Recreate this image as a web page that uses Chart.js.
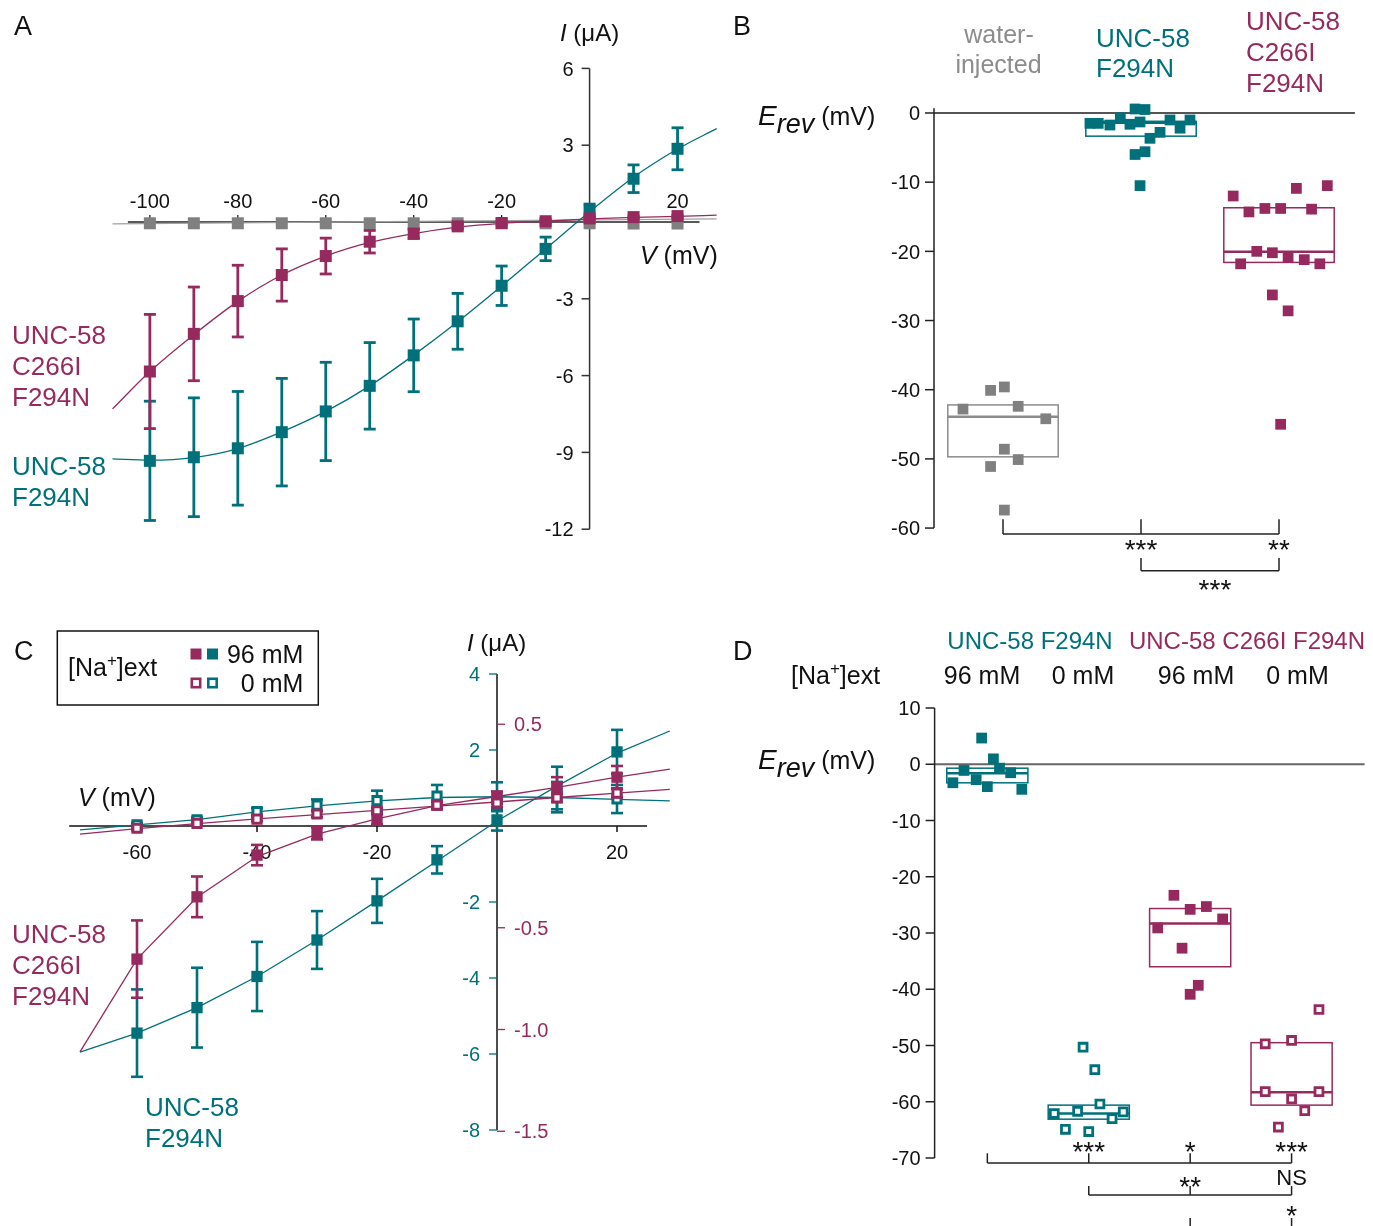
<!DOCTYPE html>
<html>
<head>
<meta charset="utf-8">
<title>UNC-58 F294N / C266I F294N currents and reversal potentials</title>
<script src="https://cdn.jsdelivr.net/npm/chart.js@4.4.1/dist/chart.umd.min.js"></script>
<style>
  body { margin: 0; background: #fff; }
  #fig { position: relative; width: 1373px; height: 1226px; overflow: hidden; }
  #fig canvas { position: absolute; }
</style>
</head>
<body>
<div id="fig">
  <canvas id="panelA" width="730" height="600" style="left:0;top:0"></canvas>
  <canvas id="panelB" width="643" height="600" style="left:730px;top:0"></canvas>
  <canvas id="panelC" width="730" height="626" style="left:0;top:600px"></canvas>
  <canvas id="panelD" width="643" height="626" style="left:730px;top:600px"></canvas>
</div>
<script>
const TEAL = '#00707a', MAGENTA = '#962a5f', GRAY = '#808080', INK = '#111';
const FONT = '"Liberation Sans", Arial, sans-serif';

// ---------- panel A: I-V curves in 96 mM Na+ ----------
const voltsA = [-100, -90, -80, -70, -60, -50, -40, -30, -20, -10, 0, 10, 20];
const f294nA = [-9.33, -9.19, -8.84, -8.21, -7.40, -6.40, -5.21, -3.88, -2.49, -1.05, 0.45, 1.69, 2.86];
const f294nErrA = [2.33, 2.32, 2.22, 2.10, 1.92, 1.69, 1.42, 1.09, 0.77, 0.46, 0.25, 0.54, 0.82];
const c266iA = [-5.84, -4.37, -3.09, -2.07, -1.33, -0.77, -0.46, -0.17, -0.04, 0.03, 0.14, 0.19, 0.23];
const c266iErrA = [2.23, 1.83, 1.40, 1.02, 0.70, 0.44, 0.18, 0.10, 0.06, 0.04, 0.04, 0.04, 0.04];
const waterA = [-0.05, -0.05, -0.05, -0.05, -0.05, -0.05, -0.05, -0.05, -0.05, -0.05, -0.05, -0.06, -0.06];
// fitted curves, read at the plotted voltages plus both ends of each curve
const fitVoltsA = [-108.5, -100, -90, -80, -70, -60, -50, -40, -30, -20, -10, 0, 10, 20, 28.9];
const f294nFitA = [-9.25, -9.3, -9.2, -8.85, -8.2, -7.4, -6.4, -5.2, -3.9, -2.5, -1.05, 0.4, 1.75, 2.85, 3.65];
const c266iFitA = [-7.3, -5.84, -4.4, -3.1, -2.07, -1.33, -0.8, -0.45, -0.2, -0.05, 0.03, 0.12, 0.18, 0.22, 0.27];
const waterFitVoltsA = [-108.5, 28.9];
const waterFitA = [-0.07, 0.12];
const xTicksA = [-100, -80, -60, -40, -20, 20];
const yTicksA = [6, 3, -3, -6, -9, -12];

// ---------- panel B: Erev per oocyte ----------
const groupsB = ['water-injected', 'UNC-58 F294N', 'UNC-58 C266I F294N'];
const waterXB = [0.71, 0.91, 1.01, 1.11, 1.31, 1.01, 1.11, 0.91, 1.01];
const waterB = [-42.8, -40.1, -39.6, -42.4, -44.2, -48.6, -50.1, -51.1, -57.4];
const f294nXB = [1.63, 1.69, 1.775, 1.85, 1.92, 1.957, 2.029, 1.993, 2.065, 2.138, 2.21, 2.283, 2.355, 2.029, 1.957, 1.993];
const f294nB = [-1.5, -1.5, -1.74, -0.68, -1.63, 0.58, 0.5, -1.3, -3.66, -2.8, -1.01, -2.2, -1.01, -5.6, -6.0, -10.5];
const c266iXB = [2.668, 2.782, 2.898, 3.012, 3.126, 3.236, 3.35, 2.839, 2.952, 3.066, 3.183, 3.296, 2.722, 2.952, 3.066, 3.012];
const c266iB = [-12.0, -14.3, -13.8, -13.8, -10.9, -13.9, -10.5, -20.0, -20.2, -20.9, -21.2, -21.8, -21.8, -26.3, -28.6, -45.0];
const boxHighB = [-42.2, -1.2, -13.7];
const boxMedB = [-43.9, -1.4, -20.05];
const boxLowB = [-49.7, -3.35, -21.6];
const yTicksB = [0, -10, -20, -30, -40, -50, -60];

// ---------- panel C: I-V curves in 96 mM and 0 mM Na+ ----------
const voltsC = [-60, -50, -40, -30, -20, -10, 0, 10, 20];
const f294n96C = [-5.45, -4.78, -3.96, -3.0, -1.97, -0.89, 0.16, 1.0, 1.95];
const f294n96ErrC = [1.15, 1.05, 0.91, 0.76, 0.58, 0.36, 0.28, 0.56, 0.58];
const f294n0C = [0.03, 0.16, 0.38, 0.55, 0.67, 0.79, 0.77, 0.76, 0.71];
const f294n0ErrC = [0.05, 0.06, 0.09, 0.15, 0.26, 0.29, 0.38, 0.40, 0.37];
const c266i96C = [-0.654, -0.348, -0.143, -0.036, 0.038, 0.103, 0.14, 0.19, 0.24];
const c266i96ErrC = [0.19, 0.10, 0.05, 0.03, 0.03, 0.02, 0.03, 0.05, 0.055];
const c266i0C = [-0.011, 0.013, 0.034, 0.059, 0.075, 0.103, 0.113, 0.138, 0.162];
const c266i0ErrC = [0.01, 0.01, 0.01, 0.015, 0.015, 0.015, 0.02, 0.02, 0.02];
const fitVoltsC = [-69.5, -60, -50, -40, -30, -20, -10, 0, 10, 20, 28.8];
const f294n96FitC = [-5.95, -5.45, -4.78, -3.96, -3.0, -1.97, -0.92, 0.13, 1.05, 1.92, 2.5];
const c266i96FitC = [-1.11, -0.654, -0.35, -0.15, -0.04, 0.035, 0.1, 0.145, 0.19, 0.24, 0.28];
const f294n0FitC = [-0.1, 0.03, 0.17, 0.37, 0.53, 0.66, 0.75, 0.77, 0.75, 0.7, 0.66];
const c266i0FitC = [-0.04, -0.013, 0.012, 0.035, 0.056, 0.077, 0.098, 0.118, 0.14, 0.162, 0.18];
const xTicksC = [-60, -40, -20, 20];
const yTicksTealC = [4, 2, -2, -4, -6, -8];
const yTicksMagC = [0.5, -0.5, -1.0, -1.5];

// ---------- panel D: Erev in 96 mM and 0 mM Na+ ----------
const concD = ['96 mM', '0 mM', '96 mM', '0 mM'];
const f294n96XD = [0.944, 1.06, 0.77, 1.12, 1.23, 0.66, 0.89, 1.0, 1.34];
const f294n96D = [4.66, 0.96, -1.10, -0.69, -1.51, -3.29, -2.74, -3.98, -4.46];
const f294n0XD = [1.944, 2.06, 2.11, 1.66, 1.89, 2.34, 2.23, 1.77, 2.0];
const f294n0D = [-50.3, -54.3, -60.4, -62.1, -61.7, -61.8, -63.0, -64.9, -65.3];
const c266i96XD = [2.84, 3.0, 3.16, 3.32, 2.68, 2.92, 3.08, 3.0];
const c266i96D = [-23.3, -25.8, -25.3, -27.5, -29.1, -32.7, -39.3, -40.9];
const c266i0XD = [4.27, 3.74, 4.0, 3.74, 4.27, 4.0, 4.13, 3.87];
const c266i0D = [-43.6, -49.7, -49.1, -58.2, -58.2, -59.5, -61.6, -64.5];
const boxHighD = [-0.7, -60.6, -25.65, -49.5];
const boxMedD = [-1.6, -62.1, -28.3, -58.3];
const boxLowD = [-3.3, -63.1, -36.0, -60.6];
const yTicksD = [10, 0, -10, -20, -30, -40, -50, -60, -70];

// ---------- helpers ----------
const pts = (xs, ys) => xs.map((x, i) => ({ x, y: ys[i] }));

function line(ctx, x1, y1, x2, y2) {
  ctx.beginPath(); ctx.moveTo(x1, y1); ctx.lineTo(x2, y2); ctx.stroke();
}

// yc = visual centre of capitals/digits
function text(ctx, s, x, yc, o = {}) {
  const size = o.size || 26;
  ctx.font = (o.italic ? 'italic ' : '') + size + 'px ' + FONT;
  ctx.fillStyle = o.color || INK;
  ctx.textAlign = o.align || 'left';
  ctx.textBaseline = 'alphabetic';
  ctx.fillText(s, x, yc + 0.36 * size);
}

// runs: [text, size, italic, dy]
function rich(ctx, runs, x, base, o = {}) {
  const fontOf = r => (r[2] ? 'italic ' : '') + r[1] + 'px ' + FONT;
  let w = 0;
  runs.forEach(r => { ctx.font = fontOf(r); w += ctx.measureText(r[0]).width; });
  let cx = o.align === 'center' ? x - w / 2 : o.align === 'right' ? x - w : x;
  ctx.fillStyle = o.color || INK;
  ctx.textAlign = 'left';
  ctx.textBaseline = 'alphabetic';
  runs.forEach(r => {
    ctx.font = fontOf(r);
    ctx.fillText(r[0], cx, base + (r[3] || 0));
    cx += ctx.measureText(r[0]).width;
  });
}

function stars(ctx, s, x, yc, size = 28) {
  ctx.font = size + 'px ' + FONT;
  ctx.fillStyle = INK;
  ctx.textAlign = 'center';
  ctx.textBaseline = 'alphabetic';
  ctx.fillText(s, x, yc + 0.5 * size);
}

function erev(ctx, x, base) {
  rich(ctx, [['E', 28, true], ['rev', 27, true, 8], [' (mV)', 25]], x, base);
}

// significance bracket: horizontal at yLine, upward tips at each category
function bracket(chart, cats, yLine, yTip) {
  const { ctx, scales: { x, y } } = chart;
  const yl = y.getPixelForValue(yLine), yt = y.getPixelForValue(yTip);
  line(ctx, x.getPixelForValue(cats[0]), yl, x.getPixelForValue(cats[cats.length - 1]), yl);
  cats.forEach(c => { const px = x.getPixelForValue(c); line(ctx, px, yl, px, yt); });
}

function boxes(chart, high, med, low, colors) {
  const { ctx, scales: { x, y } } = chart;
  high.forEach((h, i) => {
    const l = x.getPixelForValue(i + 0.6), r = x.getPixelForValue(i + 1.4);
    ctx.strokeStyle = colors[i];
    ctx.lineWidth = 1.5;
    ctx.strokeRect(l, y.getPixelForValue(h), r - l, y.getPixelForValue(low[i]) - y.getPixelForValue(h));
    ctx.lineWidth = 2.5;
    line(ctx, l, y.getPixelForValue(med[i]), r, y.getPixelForValue(med[i]));
  });
}

function filled(data, color, r, order, extra = {}) {
  return Object.assign({
    data, order, showLine: false, clip: false, pointStyle: 'rect',
    pointRadius: r, pointHoverRadius: r,
    pointBackgroundColor: color, pointBorderColor: color, pointBorderWidth: 0, errColor: color
  }, extra);
}

function hollow(data, color, r, bw, order, extra = {}) {
  return Object.assign({
    data, order, showLine: false, clip: false, pointStyle: 'rect',
    pointRadius: r, pointHoverRadius: r,
    pointBackgroundColor: '#fff', pointBorderColor: color, pointBorderWidth: bw, errColor: color
  }, extra);
}

function fit(data, color, order, extra = {}) {
  return Object.assign({
    data, order, showLine: true, clip: false, pointRadius: 0, pointHoverRadius: 0,
    borderColor: color, borderWidth: 1.3, cubicInterpolationMode: 'monotone', fill: false
  }, extra);
}
const straight = { cubicInterpolationMode: 'default', tension: 0 };

// error bars drawn just before their own dataset, so markers sit on top
function errorBars(capW, lw) {
  return {
    id: 'errorBars',
    beforeDatasetDraw(chart, args) {
      const ds = chart.data.datasets[args.index];
      if (!ds.err) return;
      const xs = chart.scales[args.meta.xAxisID], ys = chart.scales[args.meta.yAxisID];
      const ctx = chart.ctx;
      ctx.save();
      ctx.strokeStyle = ds.errColor;
      ctx.lineWidth = lw;
      ds.data.forEach((p, i) => {
        const e = ds.err[i];
        if (!e) return;
        const px = xs.getPixelForValue(p.x);
        const y1 = ys.getPixelForValue(p.y + e), y2 = ys.getPixelForValue(p.y - e);
        line(ctx, px, y1, px, y2);
        line(ctx, px - capW / 2, y1, px + capW / 2, y1);
        line(ctx, px - capW / 2, y2, px + capW / 2, y2);
      });
      ctx.restore();
    }
  };
}

function makeChart(id, datasets, scales, padding, plugins) {
  return new Chart(document.getElementById(id), {
    type: 'scatter',
    data: { datasets },
    options: {
      responsive: false, animation: false, devicePixelRatio: 1, events: [],
      layout: { padding },
      scales,
      plugins: { legend: { display: false }, tooltip: { enabled: false } }
    },
    plugins
  });
}

const hidden = (min, max, extra = {}) => Object.assign({ type: 'linear', min, max, display: false }, extra);

// ---------- panel A ----------
const axesA = {
  id: 'axesA',
  beforeDatasetsDraw(chart) {
    const { ctx, scales: { x, y } } = chart;
    const x0 = x.getPixelForValue(0), y0 = y.getPixelForValue(0);
    ctx.save();
    ctx.strokeStyle = '#222'; ctx.lineWidth = 1.3;
    line(ctx, x.getPixelForValue(-105), y0, x.getPixelForValue(25), y0);
    xTicksA.forEach(v => {
      const px = x.getPixelForValue(v);
      line(ctx, px, y0, px, y0 - 7);
      text(ctx, String(v), px, y0 - 21, { size: 20, align: 'center' });
    });
    ctx.strokeStyle = '#333'; ctx.lineWidth = 1.5;
    line(ctx, x0, y.getPixelForValue(6), x0, y.getPixelForValue(-12));
    yTicksA.forEach(v => {
      const py = y.getPixelForValue(v);
      line(ctx, x0 - 8, py, x0, py);
      text(ctx, String(v), x0 - 16, py, { size: 20, align: 'right' });
    });
    ctx.restore();
  },
  afterDatasetsDraw(chart) {
    const ctx = chart.ctx;
    ctx.save();
    text(ctx, 'A', 14, 25, { size: 27 });
    rich(ctx, [['I', 24, true], [' (μA)', 24]], 560, 41);
    rich(ctx, [['V', 25, true], [' (mV)', 25]], 640, 264);
    groupsB[2].split(' ').forEach((s, i) => text(ctx, s, 12, 335 + 31 * i, { color: MAGENTA }));
    groupsB[1].split(' ').forEach((s, i) => text(ctx, s, 12, 466 + 31 * i, { color: TEAL }));
    ctx.restore();
  }
};

makeChart('panelA', [
  filled(pts(voltsA, c266iA), MAGENTA, 8.5, 1, { err: c266iErrA }),
  filled(pts(voltsA, f294nA), TEAL, 8.5, 2, { err: f294nErrA }),
  filled(pts(voltsA, waterA), GRAY, 8.5, 3),
  fit(pts(fitVoltsA, c266iFitA), MAGENTA, 4),
  fit(pts(fitVoltsA, f294nFitA), TEAL, 5),
  fit(pts(waterFitVoltsA, waterFitA), '#a0a0a0', 6)
], { x: hidden(-110, 30), y: hidden(-13, 7) },
{ left: 105.9, right: 6.7, top: 42.8, bottom: 45.2 },
[axesA, errorBars(12, 2.8)]);

// ---------- panel B ----------
const axesB = {
  id: 'axesB',
  beforeDatasetsDraw(chart) {
    const { ctx, scales: { x, y } } = chart;
    const xa = x.getPixelForValue(0.5), y0 = y.getPixelForValue(0);
    ctx.save();
    ctx.strokeStyle = '#555'; ctx.lineWidth = 1.8;
    line(ctx, xa, y0, x.getPixelForValue(3.55), y0);
    ctx.strokeStyle = '#222'; ctx.lineWidth = 1.5;
    line(ctx, xa, y.getPixelForValue(0.7), xa, y.getPixelForValue(-60));
    yTicksB.forEach(v => {
      const py = y.getPixelForValue(v);
      line(ctx, xa - 9, py, xa, py);
      text(ctx, String(v), xa - 14, py, { size: 20, align: 'right' });
    });
    boxes(chart, boxHighB, boxMedB, boxLowB, ['#8c8c8c', TEAL, MAGENTA]);
    ctx.restore();
  },
  afterDatasetsDraw(chart) {
    const { ctx, scales: { x, y } } = chart;
    ctx.save();
    ctx.strokeStyle = '#222'; ctx.lineWidth = 1.5;
    bracket(chart, [1, 2, 3], -60.84, -58.74);
    bracket(chart, [2, 3], -66.18, -64.33);
    stars(ctx, '***', x.getPixelForValue(2), y.getPixelForValue(-62.46));
    stars(ctx, '**', x.getPixelForValue(3), y.getPixelForValue(-62.46));
    stars(ctx, '***', x.getPixelForValue(2.536), y.getPixelForValue(-68.24));
    ctx.translate(-730, 0);
    text(ctx, 'B', 733, 25, { size: 27 });
    rich(ctx, [['water-', 25]], 999, 43, { align: 'center', color: '#8c8c8c' });
    rich(ctx, [['injected', 25]], 998.5, 73, { align: 'center', color: '#8c8c8c' });
    groupsB[1].split(' ').forEach((s, i) => rich(ctx, [[s, 26]], 1096, 47 + 30 * i, { color: TEAL }));
    groupsB[2].split(' ').forEach((s, i) => rich(ctx, [[s, 26]], 1246, 30 + 31 * i, { color: MAGENTA }));
    erev(ctx, 758, 125);
    ctx.restore();
  }
};

makeChart('panelB', [
  filled(pts(waterXB, waterB), GRAY, 7.6, 1),
  filled(pts(f294nXB, f294nB), TEAL, 7.6, 2),
  filled(pts(c266iXB, c266iB), MAGENTA, 7.6, 3)
], { x: hidden(0.5, 3.55), y: hidden(-62, 5) },
{ left: 204, right: 18.1, top: 78.4, bottom: 58.1 },
[axesB]);

// ---------- panel C ----------
const axesC = {
  id: 'axesC',
  beforeDatasetsDraw(chart) {
    const { ctx, scales: { x, yT, yM } } = chart;
    const x0 = x.getPixelForValue(0), y0 = yT.getPixelForValue(0);
    ctx.save();
    ctx.strokeStyle = '#111'; ctx.lineWidth = 1.5;
    line(ctx, x.getPixelForValue(-71.3), y0, x.getPixelForValue(25), y0);
    xTicksC.forEach(v => {
      const px = x.getPixelForValue(v);
      line(ctx, px, y0, px, y0 + 6);
      text(ctx, String(v), px, y0 + 26, { size: 20, align: 'center' });
    });
    line(ctx, x0, yT.getPixelForValue(4), x0, yT.getPixelForValue(-8));
    ctx.strokeStyle = TEAL; ctx.lineWidth = 1.3;
    yTicksTealC.forEach(v => {
      const py = yT.getPixelForValue(v);
      line(ctx, x0 - 8, py, x0, py);
      text(ctx, String(v), x0 - 17, py, { size: 20, align: 'right', color: TEAL });
    });
    ctx.strokeStyle = MAGENTA;
    yTicksMagC.forEach(v => {
      const py = yM.getPixelForValue(v);
      line(ctx, x0, py, x0 + 8, py);
      text(ctx, v.toFixed(1), x0 + 17, py, { size: 20, color: MAGENTA });
    });
    ctx.restore();
  },
  afterDatasetsDraw(chart) {
    const ctx = chart.ctx;
    ctx.save();
    ctx.translate(0, -600);
    text(ctx, 'C', 14, 650, { size: 27 });
    // legend
    ctx.strokeStyle = '#111'; ctx.lineWidth = 1.5;
    ctx.strokeRect(57.3, 631, 261, 74);
    rich(ctx, [['[Na', 25], ['+', 17, false, -10], [']ext', 25]], 68, 676);
    ctx.fillStyle = MAGENTA; ctx.fillRect(190.5, 648.5, 11, 11);
    ctx.fillStyle = TEAL; ctx.fillRect(207, 648.5, 11, 11);
    ctx.lineWidth = 2.6;
    ctx.strokeStyle = MAGENTA; ctx.strokeRect(191.8, 678.8, 8.4, 8.4);
    ctx.strokeStyle = TEAL; ctx.strokeRect(208.3, 678.8, 8.4, 8.4);
    text(ctx, concD[0], 303.3, 654, { align: 'right', size: 25 });
    text(ctx, concD[1], 303.3, 683, { align: 'right', size: 25 });
    rich(ctx, [['I', 24, true], [' (μA)', 24]], 467, 651);
    rich(ctx, [['V', 25, true], [' (mV)', 25]], 78, 806);
    groupsB[2].split(' ').forEach((s, i) => text(ctx, s, 12, 934 + 31 * i, { color: MAGENTA }));
    groupsB[1].split(' ').forEach((s, i) => text(ctx, s, 145, 1107 + 31 * i, { color: TEAL }));
    ctx.restore();
  }
};

makeChart('panelC', [
  hollow(pts(voltsC, c266i0C), MAGENTA, 5.8, 3, 1, { yAxisID: 'yM', err: c266i0ErrC }),
  filled(pts(voltsC, c266i96C), MAGENTA, 8, 2, { yAxisID: 'yM', err: c266i96ErrC }),
  hollow(pts(voltsC, f294n0C), TEAL, 5.8, 3, 3, { yAxisID: 'yT', err: f294n0ErrC }),
  filled(pts(voltsC, f294n96C), TEAL, 8, 4, { yAxisID: 'yT', err: f294n96ErrC }),
  fit(pts(fitVoltsC, c266i0FitC), MAGENTA, 5, Object.assign({ yAxisID: 'yM' }, straight)),
  fit(pts(fitVoltsC, c266i96FitC), MAGENTA, 6, Object.assign({ yAxisID: 'yM' }, straight)),
  fit(pts(fitVoltsC, f294n0FitC), TEAL, 7, Object.assign({ yAxisID: 'yT' }, straight)),
  fit(pts(fitVoltsC, f294n96FitC), TEAL, 8, Object.assign({ yAxisID: 'yT' }, straight))
], { x: hidden(-72, 29), yT: hidden(-9, 5), yM: hidden(-1.6806, 0.9337) },
{ left: 65, right: 59, top: 36, bottom: 58 },
[axesC, errorBars(12, 2.6)]);

// ---------- panel D ----------
const axesD = {
  id: 'axesD',
  beforeDatasetsDraw(chart) {
    const { ctx, scales: { x, y } } = chart;
    const xa = x.getPixelForValue(0.48), y0 = y.getPixelForValue(0);
    ctx.save();
    ctx.strokeStyle = '#666'; ctx.lineWidth = 1.8;
    line(ctx, xa, y0, x.getPixelForValue(4.72), y0);
    ctx.strokeStyle = '#222'; ctx.lineWidth = 1.5;
    line(ctx, xa, y.getPixelForValue(10), xa, y.getPixelForValue(-70));
    yTicksD.forEach(v => {
      const py = y.getPixelForValue(v);
      line(ctx, xa - 9, py, xa, py);
      text(ctx, String(v), xa - 14, py, { size: 20, align: 'right' });
    });
    boxes(chart, boxHighD, boxMedD, boxLowD, [TEAL, TEAL, MAGENTA, MAGENTA]);
    ctx.restore();
  },
  afterDatasetsDraw(chart) {
    const { ctx, scales: { x, y } } = chart;
    ctx.save();
    ctx.strokeStyle = '#222'; ctx.lineWidth = 1.5;
    bracket(chart, [1, 2, 3, 4], -70.89, -69.16);
    bracket(chart, [2, 3, 4], -76.58, -74.98);
    [3, 4].forEach(c => line(ctx, x.getPixelForValue(c), y.getPixelForValue(-80.67), x.getPixelForValue(c), y.getPixelForValue(-83)));
    stars(ctx, '***', x.getPixelForValue(2), y.getPixelForValue(-68.04));
    stars(ctx, '*', x.getPixelForValue(3), y.getPixelForValue(-68.04));
    stars(ctx, '***', x.getPixelForValue(4), y.getPixelForValue(-68.04));
    text(ctx, 'NS', x.getPixelForValue(4), y.getPixelForValue(-73.38), { size: 22, align: 'center' });
    stars(ctx, '**', x.getPixelForValue(3), y.getPixelForValue(-74.27));
    stars(ctx, '*', x.getPixelForValue(4), y.getPixelForValue(-79.42));
    ctx.translate(-730, -600);
    text(ctx, 'D', 733, 650, { size: 27 });
    text(ctx, groupsB[1], 1030, 640, { size: 24, align: 'center', color: TEAL });
    text(ctx, groupsB[2], 1247, 640, { size: 24, align: 'center', color: MAGENTA });
    rich(ctx, [['[Na', 25], ['+', 17, false, -10], [']ext', 25]], 791, 684);
    [982, 1083, 1196, 1297.5].forEach((cx, i) => text(ctx, concD[i], cx, 675, { align: 'center', size: 25 }));
    erev(ctx, 758, 769);
    ctx.restore();
  }
};

makeChart('panelD', [
  filled(pts(f294n96XD, f294n96D), TEAL, 7.6, 1),
  hollow(pts(f294n0XD, f294n0D), TEAL, 5.6, 2.8, 2),
  filled(pts(c266i96XD, c266i96D), MAGENTA, 7.6, 3),
  hollow(pts(c266i0XD, c266i0D), MAGENTA, 5.6, 2.8, 4)
], { x: hidden(0.48, 4.72), y: hidden(-72, 12) },
{ left: 204.6, right: 3.1, top: 96.75, bottom: 56.75 },
[axesD]);
</script>
</body>
</html>
